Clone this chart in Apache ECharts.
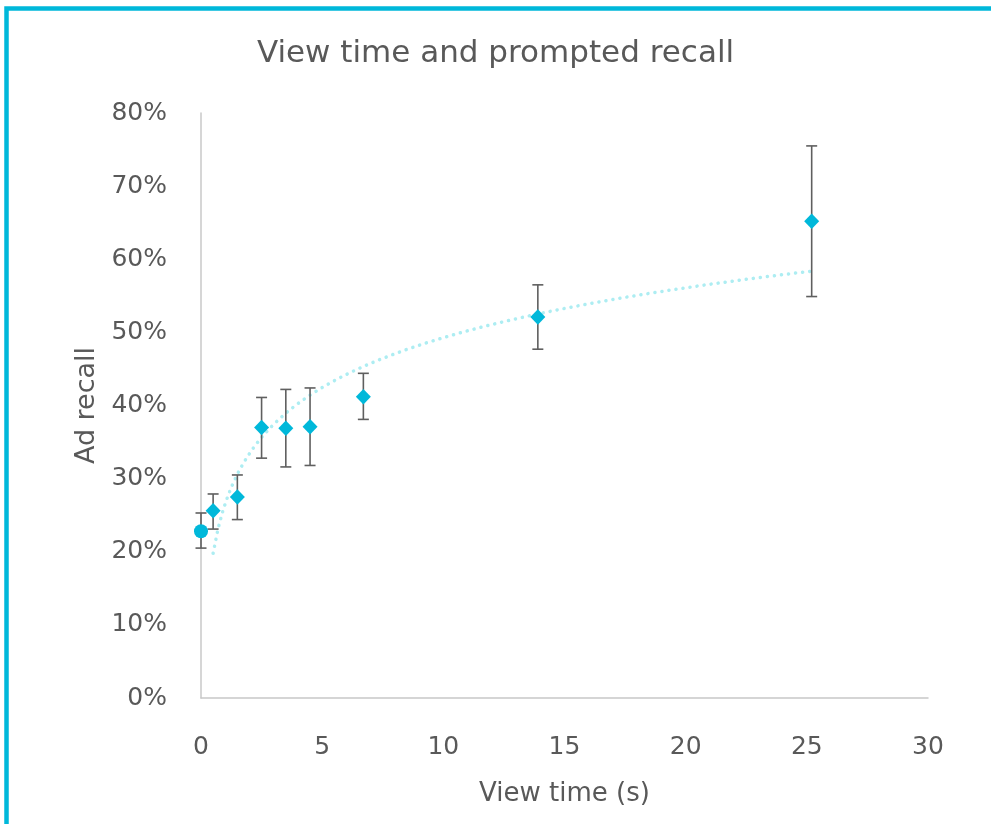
<!DOCTYPE html>
<html>
<head>
<meta charset="utf-8">
<script src="https://cdn.jsdelivr.net/npm/echarts@6/dist/echarts.min.js"></script>
<style>
html,body{margin:0;padding:0;background:#fff;}
#chart{width:991px;height:824px;}
</style>
</head>
<body>
<div id="chart"></div>
<script>
// View time (s)
var viewTime = [0, 0.5, 1.5, 2.5, 3.5, 4.5, 6.7, 13.9, 25.2];
// Ad recall (%)
var recall = [22.8, 25.6, 27.5, 37.0, 36.9, 37.1, 41.2, 52.1, 65.2];
// Error bar upper / lower bounds (%)
var recallHigh = [25.3, 27.9, 30.5, 41.1, 42.2, 42.4, 44.4, 56.5, 75.5];
var recallLow = [20.5, 23.1, 24.4, 32.8, 31.6, 31.8, 38.1, 47.7, 54.9];
var xTicks = [0, 5, 10, 15, 20, 25, 30];
var yTicks = [0, 10, 20, 30, 40, 50, 60, 70, 80];

// Logarithmic trendline fitted to the points with view time > 0
var fx = [], fy = [];
for (var i = 0; i < viewTime.length; i++) {
  if (viewTime[i] > 0) { fx.push(Math.log(viewTime[i])); fy.push(recall[i]); }
}
var mx = fx.reduce(function(a,b){return a+b;},0)/fx.length;
var my = fy.reduce(function(a,b){return a+b;},0)/fy.length;
var sxx = 0, sxy = 0;
for (var j = 0; j < fx.length; j++) { sxx += (fx[j]-mx)*(fx[j]-mx); sxy += (fx[j]-mx)*(fy[j]-my); }
var slope = sxy/sxx, icpt = my - slope*mx;
var tMin = Math.exp(Math.min.apply(null, fx)), tMax = Math.exp(Math.max.apply(null, fx));
var trend = [];
var N = 120;
for (var k = 0; k <= N; k++) {
  var t = tMin + (tMax - tMin) * k / N;
  trend.push([t, icpt + slope * Math.log(t)]);
}

var pts = viewTime.map(function(x, i){ return [x, recall[i]]; });
var bars = viewTime.map(function(x, i){ return [x, recallLow[i], recallHigh[i]]; });

var FONT = 'DejaVu Sans';
var TXT = '#595959';
var CYAN = '#00B8DA';

var chart = echarts.init(document.getElementById('chart'), null, {renderer: 'canvas'});
chart.setOption({
  animation: false,
  backgroundColor: '#ffffff',
  title: {
    text: 'View time and prompted recall',
    left: 'center',
    top: 33,
    textStyle: {fontFamily: FONT, fontSize: 31, fontWeight: 'normal', color: TXT}
  },
  graphic: [{
    type: 'rect',
    shape: {x: 6.5, y: 8.5, width: 1200, height: 1200},
    style: {fill: null, stroke: CYAN, lineWidth: 4.5},
    silent: true,
    z: 100
  }],
  grid: {left: 201, right: 63, top: 113, bottom: 126},
  xAxis: {
    type: 'value',
    min: 0, max: 30, interval: 5,
    name: 'View time (s)',
    nameLocation: 'middle',
    nameGap: 83,
    nameTextStyle: {fontFamily: FONT, fontSize: 26, color: TXT},
    axisLine: {show: true, onZero: false, lineStyle: {color: '#c8c8c8', width: 1.5}},
    axisTick: {show: false},
    splitLine: {show: false},
    axisLabel: {
      margin: 37, fontFamily: FONT, fontSize: 25, color: TXT,
      formatter: function(v){ return xTicks.indexOf(v) >= 0 ? String(v) : ''; }
    }
  },
  yAxis: {
    type: 'value',
    min: 0, max: 80, interval: 10,
    name: 'Ad recall',
    nameLocation: 'middle',
    nameGap: 100,
    nameRotate: 90,
    nameTextStyle: {fontFamily: FONT, fontSize: 27, color: TXT},
    axisLine: {show: true, lineStyle: {color: '#c8c8c8', width: 1.5}},
    axisTick: {show: false},
    splitLine: {show: false},
    axisLabel: {
      margin: 34, fontFamily: FONT, fontSize: 25, color: TXT,
      formatter: function(v){ return yTicks.indexOf(v) >= 0 ? v + '%' : ''; }
    }
  },
  series: [
    {
      type: 'line',
      data: trend,
      showSymbol: false,
      symbol: 'none',
      smooth: false,
      z: 1,
      lineStyle: {color: '#ADEDF2', width: 3.5, type: [0.1, 7], cap: 'round'}
    },
    {
      type: 'custom',
      data: bars,
      z: 2,
      renderItem: function(params, api) {
        var x = api.value(0);
        var lo = api.coord([x, api.value(1)]);
        var hi = api.coord([x, api.value(2)]);
        var hw = 5.5;
        var st = {stroke: '#5f5f5f', lineWidth: 1.6};
        return {
          type: 'group',
          children: [
            {type: 'line', shape: {x1: lo[0], y1: lo[1], x2: hi[0], y2: hi[1]}, style: st},
            {type: 'line', shape: {x1: hi[0]-hw, y1: hi[1], x2: hi[0]+hw, y2: hi[1]}, style: st},
            {type: 'line', shape: {x1: lo[0]-hw, y1: lo[1], x2: lo[0]+hw, y2: lo[1]}, style: st}
          ]
        };
      }
    },
    {
      type: 'scatter',
      data: pts,
      z: 3,
      symbol: function(v, p){ return p.dataIndex === 0 ? 'circle' : 'diamond'; },
      symbolSize: function(v, p){ return p.dataIndex === 0 ? 14 : [15, 15.5]; },
      itemStyle: {color: CYAN, opacity: 1}
    }
  ]
});
</script>
</body>
</html>
